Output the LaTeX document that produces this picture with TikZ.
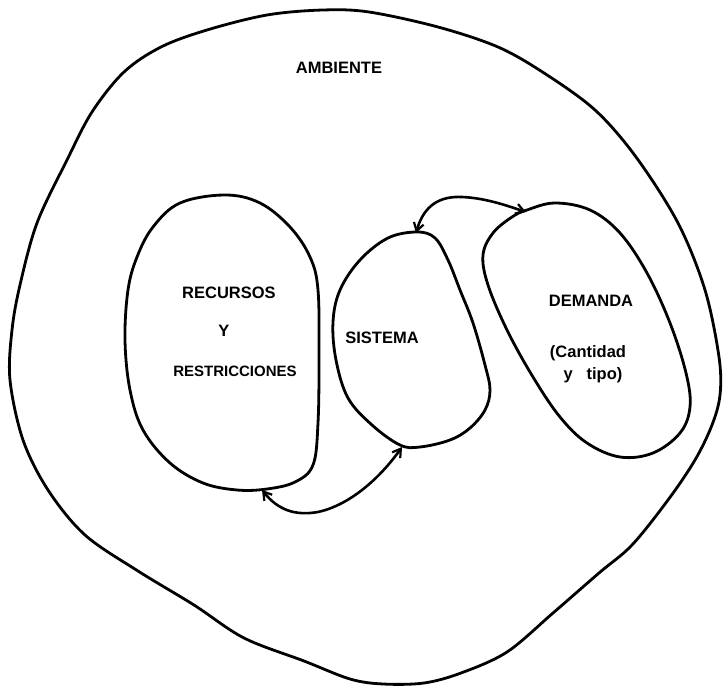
\documentclass[tikz,border=0pt]{standalone}
\usepackage{fontspec}
\setmainfont{Liberation Sans}
\usetikzlibrary{arrows.meta}
\tikzset{
  blob/.style={line width=2.8pt, line join=round},
  link/.style={line width=2.6pt, {Straight Barb[length=8pt,width=10pt,line width=2.2pt]}-{Straight Barb[length=8pt,width=10pt,line width=2.2pt]}},
  lbl/.style={font=\bfseries\fontsize{16.5}{19}\selectfont, inner sep=0pt, align=center},
}
\begin{document}
\begin{tikzpicture}[x=1pt,y=-1pt]
\useasboundingbox (0,0) rectangle (723,687);
% AMBIENTE (outer boundary)
\draw[blob] plot[smooth cycle, tension=0.55] coordinates {
 (323,10) (369,12) (438,27) (498,47) (544,73) (595,110) (636,157) (678,223)
 (705,290) (719,357) (720,395) (712,425) (695,460) (668,500) (632,545) (599,573)
 (553,613) (507,652) (461,673) (424,683) (383,684) (350,679) (304,661) (244,638)
 (194,605) (138,571) (85,535) (48,490) (23,440) (10,380) (12,330) (20,285)
 (37,223) (67,160) (92,112) (124,72) (161,47) (207,30) (267,15)};
% RECURSOS Y RESTRICCIONES
\draw[blob] plot[smooth cycle, tension=0.6] coordinates {
 (225,195) (260,203) (290,227) (310,257) (318,290) (319,357) (318,423) (313,465)
 (295,482) (267,489) (237,490) (203,483) (170,463) (143,430) (130,390) (125,340)
 (128,290) (137,257) (153,227) (180,203)};
% SISTEMA
\draw[blob] plot[smooth cycle, tension=0.6] coordinates {
 (417,232) (435,238) (448,260) (460,290) (473,323) (485,365) (490,390) (485,410)
 (470,428) (450,440) (420,447) (400,445) (372,425) (348,398) (336,360) (333,322)
 (340,290) (360,260) (388,238)};
% DEMANDA
\draw[blob] plot[smooth cycle, tension=0.6] coordinates {
 (527,210) (555,203) (590,210) (620,233) (647,273) (670,323) (686,373) (690,407)
 (680,433) (653,453) (620,457) (587,443) (560,417) (533,377) (507,330) (488,285)
 (483,255) (493,233) (512,217)};
% connector end points
\coordinate (sisTop) at (416,233);
\coordinate (demTop) at (526,212);
\coordinate (recBot) at (262,490);
\coordinate (sisBot) at (402,447);
\draw[link] (sisTop) .. controls (424,205) and (440,196) .. (462,197)
            .. controls (485,198) and (505,205) .. (demTop);
\draw[link] (recBot) .. controls (278,510) and (295,516) .. (318,512)
            .. controls (350,505) and (380,478) .. (sisBot);
% labels
\node[lbl] (amb) at (339,68) {AMBIENTE};
\node[lbl] (rec) at (229,293) {RECURSOS};
\node[lbl] (y) at (224,331) {Y};
\node[lbl, font=\bfseries\fontsize{15}{18}\selectfont] (res) at (235,371) {RESTRICCIONES};
\node[lbl] (sis) at (382,338) {SISTEMA};
\node[lbl] (dem) at (591,301) {DEMANDA};
\node[lbl] (can) at (588,353) {(Cantidad};
\node[lbl] (tip) at (593,375) {y\ \ \ tipo)};
\end{tikzpicture}
\end{document}
